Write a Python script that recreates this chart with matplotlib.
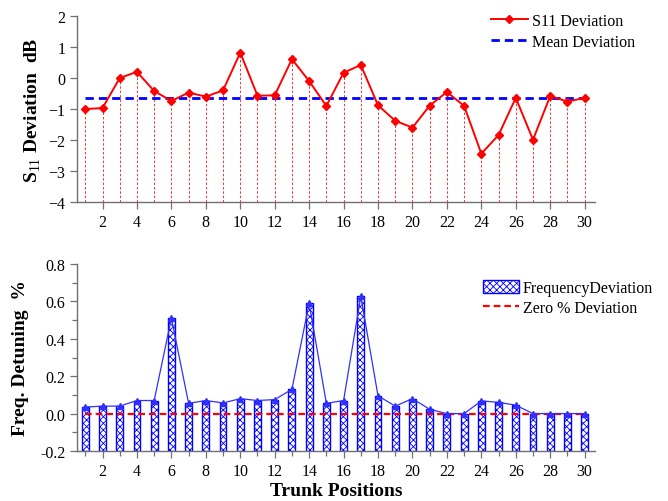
import matplotlib
matplotlib.use("Agg")
import matplotlib.pyplot as plt
from matplotlib.ticker import MultipleLocator, FormatStrFormatter
from matplotlib.lines import Line2D
from matplotlib.patches import Patch

plt.rcParams["font.family"] = ["Liberation Serif", "DejaVu Serif"]
plt.rcParams["mathtext.fontset"] = "custom"
plt.rcParams["mathtext.rm"] = "Liberation Serif"
plt.rcParams["mathtext.bf"] = "Liberation Serif:bold"
plt.rcParams["hatch.color"] = "#0000ff"
plt.rcParams["hatch.linewidth"] = 0.6

# trunk positions 1..30
positions = list(range(1, 31))

# S11 deviation per position (dB)
s11_deviation = [
    -1.00, -0.97, 0.00, 0.20, -0.42, -0.74, -0.47, -0.60, -0.40, 0.82,
    -0.57, -0.56, 0.61, -0.10, -0.90, 0.17, 0.42, -0.88, -1.38, -1.60,
    -0.89, -0.45, -0.90, -2.44, -1.84, -0.64, -1.99, -0.58, -0.76, -0.64,
]
mean_deviation = -0.64

# frequency detuning per position (%)
freq_detuning = [
    0.035, 0.040, 0.040, 0.070, 0.070, 0.510, 0.055, 0.070, 0.057, 0.080,
    0.070, 0.075, 0.130, 0.590, 0.055, 0.070, 0.627, 0.095, 0.040, 0.080,
    0.023, 0.000, 0.000, 0.068, 0.060, 0.045, 0.000, 0.000, 0.000, 0.000,
]
zero_deviation = 0.0

x_ticks = list(range(2, 31, 2))

fig = plt.figure(figsize=(6.68, 5.02), dpi=100)
ax_top = fig.add_axes([0.1153, 0.5956, 0.7754, 0.3705])
ax_bot = fig.add_axes([0.1153, 0.0996, 0.7754, 0.3725])

spine_color = "#707070"
for ax in (ax_top, ax_bot):
    ax.spines["top"].set_visible(False)
    ax.spines["right"].set_visible(False)
    for side in ("left", "bottom"):
        ax.spines[side].set_color(spine_color)
        ax.spines[side].set_linewidth(1.0)
    ax.tick_params(which="both", direction="out", color=spine_color, labelsize=11.5, width=0.9)
    ax.tick_params(which="major", length=5)
    ax.tick_params(which="minor", length=3.5)
    ax.set_xlim(0.52, 30.6)
    ax.set_xticks(x_ticks)

# top panel: S11 deviation
ax_top.set_ylim(-4, 2)
ax_top.yaxis.set_major_locator(MultipleLocator(1))
ax_top.vlines(positions, -4, s11_deviation, colors="#ff3030", linestyles=(0, (2.5, 2)), linewidth=0.7, zorder=1)
ax_top.hlines(mean_deviation, positions[0], positions[-1], color="#0000ff", linestyle=(0, (3, 1.8)), linewidth=2.0, zorder=2)
ax_top.plot(positions, s11_deviation, color="#ff0000", linewidth=1.4, marker="D", markersize=4, zorder=3)
ax_top.set_ylabel(r"$\mathbf{S}_{\mathrm{11}}$ Deviation  dB", fontsize=14, fontweight="bold", labelpad=4)

top_handles = [
    Line2D([], [], color="#ff0000", linewidth=1.4, marker="D", markersize=4),
    Line2D([], [], color="#0000ff", linestyle=(0, (3, 1.8)), linewidth=2.0),
]
fig.legend(top_handles, ["S11 Deviation", "Mean Deviation"], loc="upper left",
           bbox_to_anchor=(0.735, 0.972), frameon=False, fontsize=11.5, borderpad=0,
           handlelength=2.3, handletextpad=0.25, labelspacing=0.3, borderaxespad=0)

# bottom panel: frequency detuning
ax_bot.set_ylim(-0.2, 0.8)
ax_bot.yaxis.set_major_locator(MultipleLocator(0.2))
ax_bot.yaxis.set_minor_locator(MultipleLocator(0.1))
ax_bot.xaxis.set_minor_locator(MultipleLocator(1))
ax_bot.yaxis.set_major_formatter(FormatStrFormatter("%.1f"))
bar_bottom = -0.2
bar_heights = [v - bar_bottom for v in freq_detuning]
ax_bot.bar(positions, bar_heights, bottom=bar_bottom, width=0.4, facecolor="white",
           edgecolor="#0000ff", hatch="xxxxx", linewidth=1.0, zorder=2)
ax_bot.hlines(zero_deviation, positions[0], positions[-1], color="#ff0000", linestyle=(0, (3, 1.8)), linewidth=1.6, zorder=3)
ax_bot.plot(positions, freq_detuning, color="#3030ff", linewidth=0.9, marker="^", markersize=4.5, zorder=4)
ax_bot.set_ylabel("Freq. Detuning  %", fontsize=14, fontweight="bold", labelpad=8)
ax_bot.set_xlabel("Trunk Positions", fontsize=14, fontweight="bold", labelpad=2)

bot_handles = [
    Patch(facecolor="white", edgecolor="#0000ff", hatch="xxxxx", linewidth=1.0),
    Line2D([], [], color="#ff0000", linestyle=(0, (3, 1.8)), linewidth=1.6),
]
fig.legend(bot_handles, ["FrequencyDeviation", "Zero % Deviation"], loc="upper left",
           bbox_to_anchor=(0.723, 0.44), frameon=False, fontsize=11.5, borderpad=0,
           handlelength=2.25, handleheight=0.8, handletextpad=0.25, labelspacing=0.25, borderaxespad=0)

fig.savefig("out.png", dpi=100)
